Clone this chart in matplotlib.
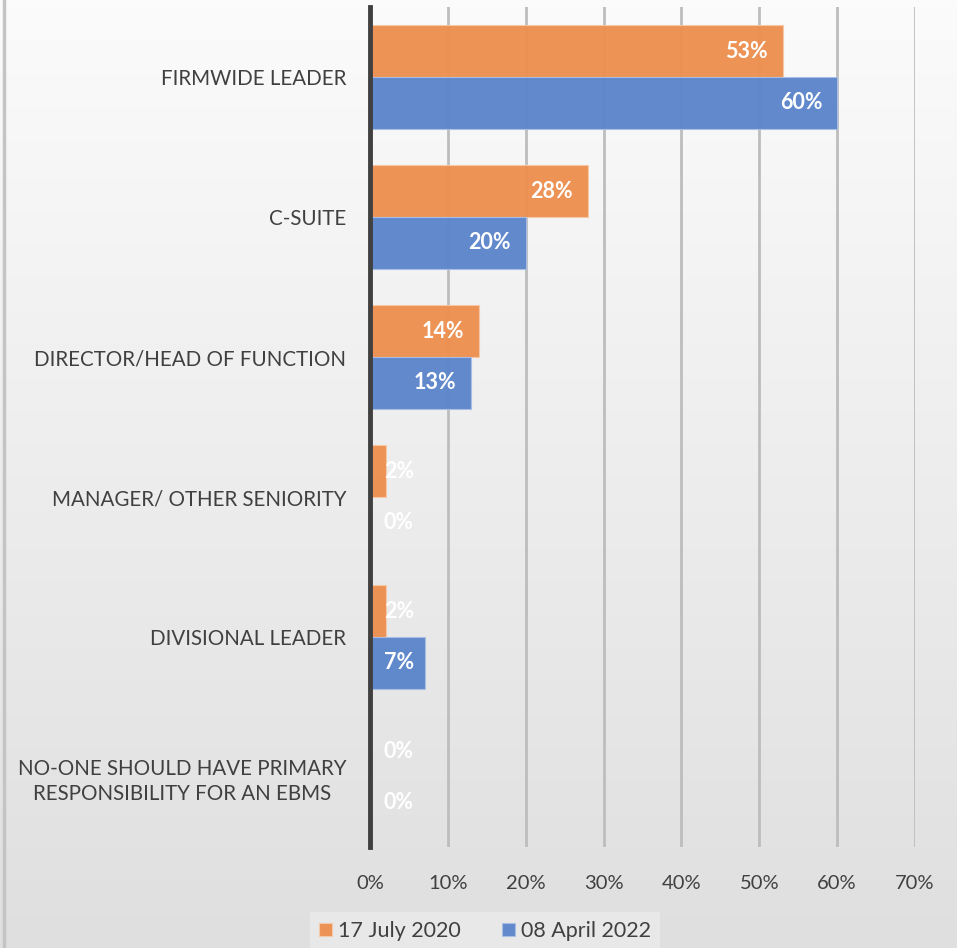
import matplotlib.pyplot as plt
import matplotlib.transforms as mtransforms
import numpy as np

# Who should have primary responsibility for an EBMS
categories = [
    "FIRMWIDE LEADER",
    "C-SUITE",
    "DIRECTOR/HEAD OF FUNCTION",
    "MANAGER/ OTHER SENIORITY",
    "DIVISIONAL LEADER",
    "NO-ONE SHOULD HAVE PRIMARY\nRESPONSIBILITY FOR AN EBMS",
]
series_names = ["17 July 2020", "08 April 2022"]
values_2020 = [53, 28, 14, 2, 2, 0]
values_2022 = [60, 20, 13, 0, 7, 0]
x_ticks = [0, 10, 20, 30, 40, 50, 60, 70]

ORANGE = "#ed8f4f"
BLUE = "#5b85cb"
TEXT = "#404040"

plt.rcParams["font.family"] = ["Lato", "DejaVu Sans"]

fig = plt.figure(figsize=(9.57, 9.48), dpi=100)

# vertical grey gradient behind everything
bg = fig.add_axes([0, 0, 1, 1], zorder=-10)
grad = np.linspace(0.985, 0.875, 256).reshape(-1, 1)
bg.imshow(np.dstack([grad, grad, grad]), aspect="auto", extent=[0, 1, 0, 1])
bg.plot([0.0037, 0.0037], [0, 1], color="#c4c4c4", lw=2.5)
bg.set_xlim(0, 1)
bg.set_ylim(0, 1)
bg.axis("off")

ax = fig.add_axes([370 / 957, 1 - 847 / 948, 545 / 957, 840 / 948])
ax.patch.set_alpha(0)

n = len(categories)
y = np.arange(n)
h = 0.37

bars_a = ax.barh(y - h / 2, values_2020, height=h, color=ORANGE,
                 edgecolor="#f6c9a8", linewidth=0.8, alpha=0.96,
                 label=series_names[0], zorder=2)
bars_b = ax.barh(y + h / 2, values_2022, height=h, color=BLUE,
                 edgecolor="#a9bfe4", linewidth=0.8, alpha=0.96,
                 label=series_names[1], zorder=2)

ax.set_xlim(0, 70)
ax.set_ylim(n - 0.5, -0.5)
ax.set_xticks(x_ticks)
ax.set_xticklabels([f"{t}%" for t in x_ticks], fontsize=14.5, color=TEXT)
ax.set_yticks(y)
ax.set_yticklabels(categories, fontsize=14.8, color=TEXT, linespacing=1.3,
                   multialignment="center")
ax.tick_params(axis="both", length=0)
ax.tick_params(axis="y", pad=17)
ax.tick_params(axis="x", pad=20)

ax.grid(axis="x", color="#bdbdbd", lw=2, zorder=1)
ax.set_axisbelow(True)
for side in ["top", "right", "bottom"]:
    ax.spines[side].set_visible(False)
ax.spines["left"].set_color("#404040")
ax.spines["left"].set_linewidth(3.5)
ax.spines["left"].set_zorder(3)

# value labels sit inside the bar end, but never closer than the axis allows
min_x = 5.65
shift = mtransforms.offset_copy(ax.transData, fig=fig, x=-15, y=0, units="dots")
plain = ax.transData
for bars, vals in [(bars_a, values_2020), (bars_b, values_2022)]:
    for bar, v in zip(bars, vals):
        yc = bar.get_y() + bar.get_height() / 2
        px_end = v * 545 / 70
        if px_end - 15 >= min_x * 545 / 70:
            ax.text(v, yc, f"{v}%", transform=shift, ha="right", va="center",
                    fontsize=15.5, fontweight="bold", color="white", zorder=4)
        else:
            ax.text(min_x, yc, f"{v}%", transform=plain, ha="right", va="center",
                    fontsize=15.5, fontweight="bold", color="white", zorder=4)

leg = fig.legend(handles=[bars_a, bars_b], labels=series_names,
                 loc="center", bbox_to_anchor=(485 / 957, 1 - 931 / 948),
                 ncol=2, fontsize=15.5, frameon=True, handlelength=0.6,
                 handleheight=0.6, handletextpad=0.3, columnspacing=1.9,
                 borderpad=0.4, borderaxespad=0, fancybox=False)
leg.get_frame().set_facecolor("#ebebeb")
leg.get_frame().set_edgecolor("none")
for t in leg.get_texts():
    t.set_color(TEXT)

fig.savefig("out.png", dpi=100)
